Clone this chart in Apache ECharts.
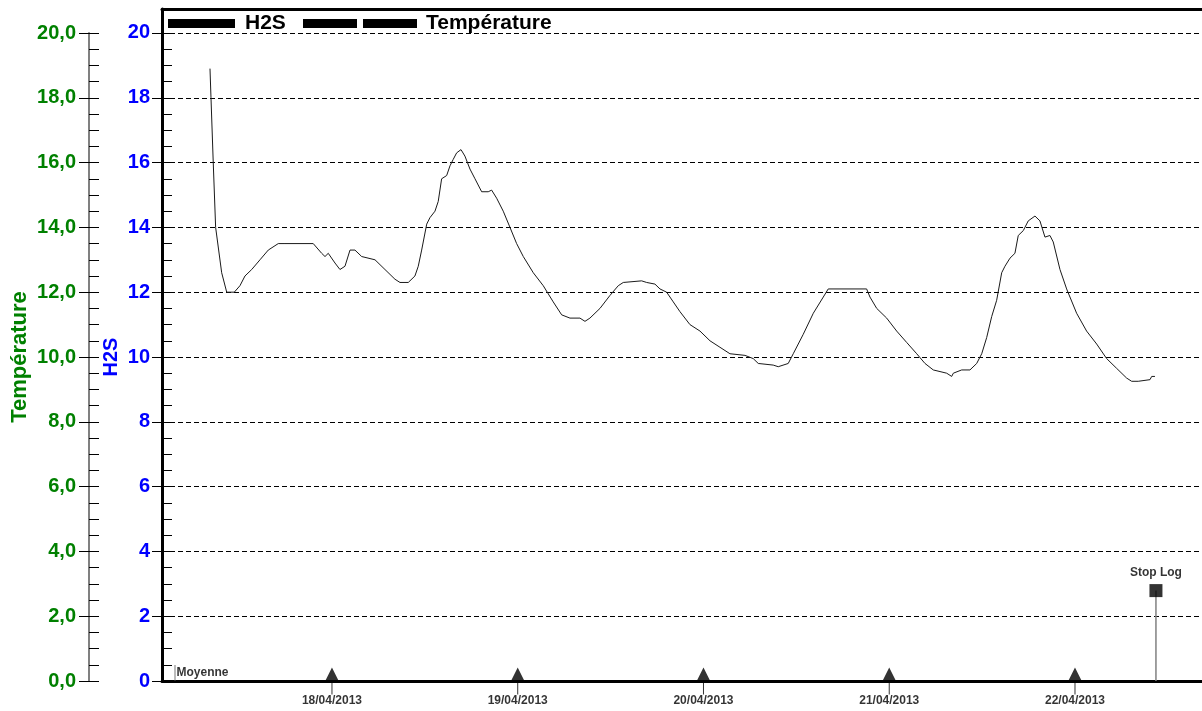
<!DOCTYPE html>
<html>
<head>
<meta charset="utf-8">
<title>H2S / Température</title>
<script src="https://cdn.jsdelivr.net/npm/echarts@6/dist/echarts.min.js"></script>
<style>
  html, body { margin: 0; padding: 0; background: #fff; }
  #chart { width: 1202px; height: 711px; }
</style>
</head>
<body>
<div id="chart"></div>
<script>
// hours counted from 17/04/2013 00:00
const hours = [
  8.24, 8.37, 8.66, 8.97, 9.75, 10.40, 11.38, 12.11, 12.76, 13.63,
  14.70, 15.77, 17.06, 17.93, 21.58, 22.67, 23.10, 23.52, 24.39, 25.03,
  25.68, 26.33, 26.97, 27.84, 29.56, 30.85, 32.14, 32.79, 33.86, 34.72,
  35.15, 35.59, 36.24, 36.66, 37.31, 37.73, 38.17, 38.82, 39.25, 39.67,
  40.11, 40.67, 41.18, 41.83, 42.48, 43.34, 44.19, 44.63, 45.28, 46.13,
  47.00, 47.86, 48.72, 50.01, 51.30, 52.59, 53.68, 54.75, 56.04, 56.69,
  57.33, 58.63, 59.92, 60.99, 61.64, 64.01, 64.66, 65.73, 66.38, 67.24,
  68.10, 68.96, 70.25, 71.55, 72.84, 74.13, 75.42, 77.36, 78.43, 79.08,
  81.01, 81.66, 82.95, 83.60, 84.89, 86.19, 87.48, 88.12, 93.08, 93.51,
  94.38, 95.67, 96.96, 98.25, 99.55, 100.62, 101.69, 102.56, 103.42, 104.07,
  104.28, 105.36, 106.43, 107.30, 107.95, 108.59, 109.24, 109.88, 110.53, 110.95,
  111.60, 112.24, 112.67, 113.32, 113.96, 114.83, 115.47, 116.12, 116.76, 117.19,
  118.06, 118.92, 120.21, 121.50, 122.80, 124.09, 125.38, 126.67, 127.32, 128.17,
  128.40, 129.69, 129.91, 130.33
]
const h2s = [
  18.9, 18.0, 16.0, 14.0, 12.6, 12.0, 12.0, 12.2, 12.5, 12.7,
  13.0, 13.3, 13.5, 13.5, 13.5, 13.2, 13.1, 13.2, 12.9, 12.7,
  12.8, 13.3, 13.3, 13.1, 13.0, 12.7, 12.4, 12.3, 12.3, 12.5,
  12.8, 13.3, 14.1, 14.3, 14.5, 14.8, 15.5, 15.6, 15.9, 16.1,
  16.3, 16.4, 16.2, 15.8, 15.5, 15.1, 15.1, 15.15, 14.9, 14.5,
  14.0, 13.5, 13.1, 12.6, 12.2, 11.7, 11.3, 11.2, 11.2, 11.1,
  11.2, 11.5, 11.9, 12.2, 12.3, 12.35, 12.3, 12.25, 12.1, 12.0,
  11.7, 11.4, 11.0, 10.8, 10.5, 10.3, 10.1, 10.05, 9.95, 9.8,
  9.75, 9.7, 9.8, 10.1, 10.7, 11.35, 11.85, 12.1, 12.1, 11.85,
  11.5, 11.2, 10.8, 10.45, 10.1, 9.8, 9.6, 9.55, 9.5, 9.4,
  9.5, 9.6, 9.6, 9.8, 10.1, 10.6, 11.25, 11.75, 12.6, 12.8,
  13.05, 13.2, 13.75, 13.9, 14.2, 14.35, 14.2, 13.7, 13.75, 13.55,
  12.7, 12.1, 11.35, 10.8, 10.4, 9.95, 9.65, 9.35, 9.25, 9.25,
  9.3, 9.3, 9.4, 9.4
]
const temperature = []

const dayHours = [24, 48, 72, 96, 120]
const dayLabels = ['18/04/2013', '19/04/2013', '20/04/2013', '21/04/2013', '22/04/2013']
const h2sTicks = [0, 2, 4, 6, 8, 10, 12, 14, 16, 18, 20]

const stopHour = 130.46
const stopLevel = 2.79
const moyenneHour = 3.72

const xMin = 2.04
const xMax = 136.41
const yMax = 20.74

const FONT = 'Liberation Sans, Arial, sans-serif'
const BLUE = '#0000ff'
const GREEN = '#008000'

const lineData = hours.map(function(h, i) { return [h, h2s[i]] })
const dayData = dayHours.map(function(h, i) { return { value: [h, 0], name: dayLabels[i] } })

const myChart = echarts.init(document.getElementById('chart'))

const option = {
  backgroundColor: '#fff',
  animation: false,
  grid: [{
    left: 162,
    right: 0,
    top: 9,
    bottom: 30,
    show: false
  }, {
    // grid holding the Température axis (0..20 only)
    left: 89,
    width: 20,
    top: 33,
    bottom: 30,
    show: false
  }, {
    // grid for the small inner ticks of the H2S axis (0..20)
    left: 162,
    width: 20,
    top: 33,
    bottom: 30,
    show: false
  }],
  legend: [{
    left: 168,
    top: 13,
    padding: 0,
    itemWidth: 67,
    itemHeight: 9,
    icon: 'rect',
    data: ['H2S'],
    textStyle: { fontFamily: FONT, fontSize: 21, fontWeight: 'bold', color: '#000', padding: [0, 0, 0, 5] }
  }, {
    left: 303,
    top: 13,
    padding: 0,
    itemWidth: 114,
    itemHeight: 9,
    icon: 'path://M0,0H54V9H0Z M60,0H114V9H60Z',
    data: ['Température'],
    textStyle: { fontFamily: FONT, fontSize: 21, fontWeight: 'bold', color: '#000', padding: [0, 0, 0, 4] }
  }],
  xAxis: [{
    type: 'value',
    gridIndex: 0,
    min: xMin,
    max: xMax,
    axisLine: { show: true, onZero: false, lineStyle: { color: '#000', width: 3 } },
    axisTick: { show: false },
    axisLabel: { show: false },
    splitLine: { show: false }
  }, {
    type: 'value',
    gridIndex: 1,
    min: xMin,
    max: xMax,
    show: false
  }, {
    // top frame line
    type: 'value',
    gridIndex: 0,
    position: 'top',
    min: xMin,
    max: xMax,
    axisLine: { show: true, onZero: false, lineStyle: { color: '#000', width: 3 } },
    axisTick: { show: false },
    axisLabel: { show: false },
    splitLine: { show: false }
  }, {
    type: 'value',
    gridIndex: 2,
    min: xMin,
    max: xMax,
    show: false
  }],
  yAxis: [{
    // H2S (blue)
    type: 'value',
    gridIndex: 0,
    position: 'left',
    min: 0,
    max: yMax,
    interval: 2,
    name: 'H2S',
    nameLocation: 'middle',
    nameGap: 41,
    nameMoveOverlap: false,
    nameTextStyle: { color: BLUE, fontFamily: FONT, fontWeight: 'bold', fontSize: 20, padding: [0, 24, 0, 0] },
    axisLine: { show: true, onZero: false, lineStyle: { color: '#000', width: 3 } },
    axisTick: { show: true, length: 10, customValues: h2sTicks, lineStyle: { color: '#000' } },
    axisLabel: {
      customValues: h2sTicks,
      margin: 12,
      color: BLUE,
      fontFamily: FONT,
      fontWeight: 'bold',
      fontSize: 20
    },
    splitLine: { show: true, lineStyle: { color: '#000', type: [5, 3], width: 1 } }
  }, {
    // Température (green)
    type: 'value',
    gridIndex: 1,
    position: 'left',
    min: 0,
    max: 20,
    interval: 2,
    name: 'Température',
    nameLocation: 'middle',
    nameGap: 58,
    nameMoveOverlap: false,
    nameTextStyle: { color: GREEN, fontFamily: FONT, fontWeight: 'bold', fontSize: 22 },
    axisLine: { show: true, onZero: false, lineStyle: { color: '#808080', width: 2 } },
    axisTick: { show: true, length: 10, lineStyle: { color: '#000' } },
    axisLabel: {
      margin: 13,
      color: GREEN,
      fontFamily: FONT,
      fontWeight: 'bold',
      fontSize: 20,
      formatter: function(v) { return v.toFixed(1).replace('.', ',') }
    },
    splitLine: { show: false }
  }, {
    // inner small ticks of the H2S axis
    type: 'value',
    gridIndex: 2,
    position: 'left',
    min: 0,
    max: 20,
    interval: 0.5,
    axisLine: { show: false },
    axisTick: { show: true, inside: true, length: 10, lineStyle: { color: '#000' } },
    axisLabel: { show: false },
    splitLine: { show: false }
  }, {
    // inner small ticks of the Température axis
    type: 'value',
    gridIndex: 1,
    position: 'left',
    min: 0,
    max: 20,
    interval: 0.5,
    axisLine: { show: false },
    axisTick: { show: true, inside: true, length: 10, lineStyle: { color: '#000' } },
    axisLabel: { show: false },
    splitLine: { show: false }
  }],
  series: [{
    name: 'H2S',
    type: 'line',
    xAxisIndex: 0,
    yAxisIndex: 0,
    data: lineData,
    showSymbol: false,
    color: '#000',
    lineStyle: { color: '#1a1a1a', width: 1 },
    z: 5
  }, {
    name: 'Température',
    type: 'line',
    xAxisIndex: 1,
    yAxisIndex: 1,
    data: temperature,
    showSymbol: false,
    color: '#000'
  }, {
    // day markers on the time axis
    type: 'scatter',
    xAxisIndex: 0,
    yAxisIndex: 0,
    data: dayData,
    symbol: 'path://M6.5,0L13,13L0,13Z M6,13H7V27H6Z',
    symbolSize: [13, 27],
    itemStyle: { color: '#000' },
    label: {
      show: true,
      position: 'bottom',
      distance: 0,
      formatter: '{b}',
      color: '#000',
      fontFamily: FONT,
      fontWeight: 'bold',
      fontSize: 12
    },
    silent: true,
    z: 6
  }, {
    // Moyenne marker
    type: 'scatter',
    xAxisIndex: 0,
    yAxisIndex: 0,
    data: [{ value: [moyenneHour, 0], name: 'Moyenne' }],
    symbol: 'path://M0,0H1V16H0Z',
    symbolSize: [1, 16],
    symbolOffset: [0, -8],
    itemStyle: { color: '#555' },
    label: {
      show: true,
      position: 'right',
      distance: 1,
      formatter: '{b}',
      color: '#000',
      fontFamily: FONT,
      fontWeight: 'bold',
      fontSize: 12
    },
    silent: true,
    z: 6
  }, {
    // Stop Log stem
    type: 'line',
    xAxisIndex: 0,
    yAxisIndex: 0,
    data: [[stopHour, 0], [stopHour, stopLevel]],
    showSymbol: false,
    lineStyle: { color: '#808080', width: 1.5 },
    silent: true,
    z: 4
  }, {
    // Stop Log head
    type: 'scatter',
    xAxisIndex: 0,
    yAxisIndex: 0,
    data: [{ value: [stopHour, stopLevel], name: 'Stop Log' }],
    symbol: 'rect',
    symbolSize: 13,
    itemStyle: { color: '#000' },
    label: {
      show: true,
      position: 'top',
      distance: 5,
      formatter: '{b}',
      color: '#000',
      fontFamily: FONT,
      fontWeight: 'bold',
      fontSize: 12
    },
    silent: true,
    z: 6
  }]
}

myChart.setOption(option)
</script>
</body>
</html>
